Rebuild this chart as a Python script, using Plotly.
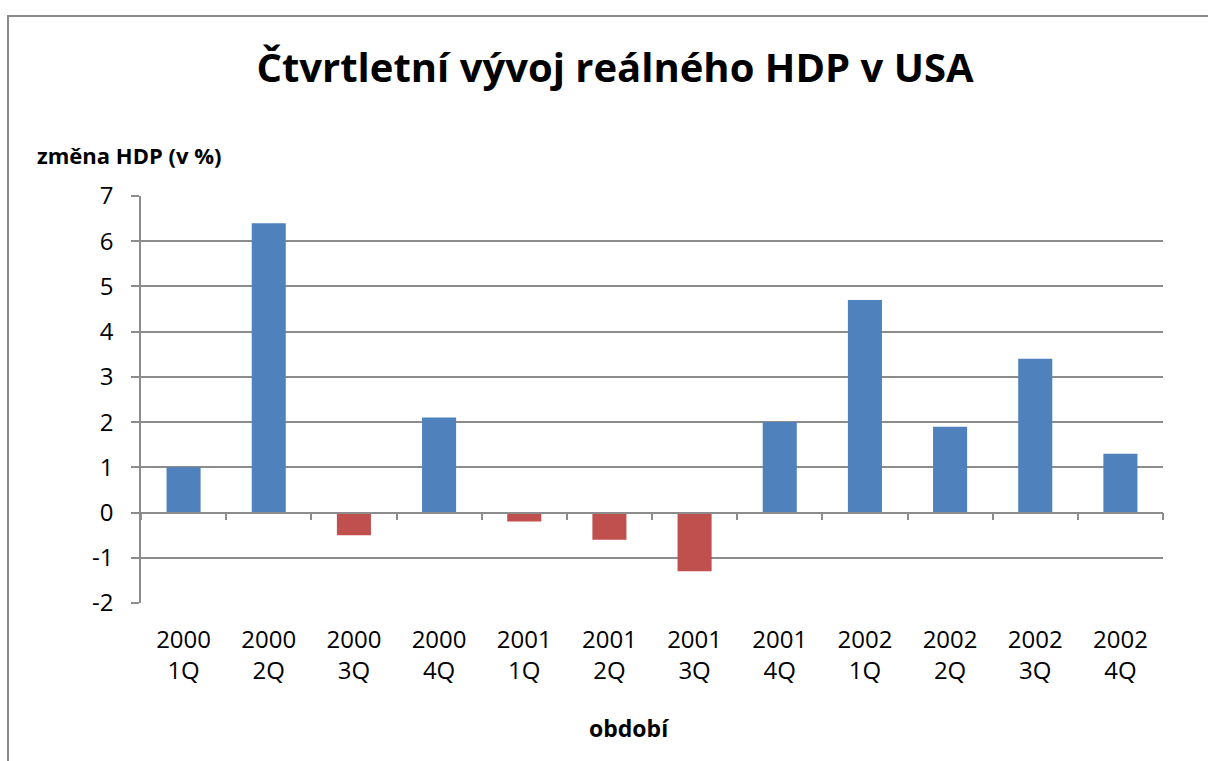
import plotly.graph_objects as go

categories = ["2000<br>1Q", "2000<br>2Q", "2000<br>3Q", "2000<br>4Q",
              "2001<br>1Q", "2001<br>2Q", "2001<br>3Q", "2001<br>4Q",
              "2002<br>1Q", "2002<br>2Q", "2002<br>3Q", "2002<br>4Q"]
values = [1.0, 6.4, -0.5, 2.1, -0.2, -0.6, -1.3, 2.0, 4.7, 1.9, 3.4, 1.3]
y_ticks = [-2, -1, 0, 1, 2, 3, 4, 5, 6, 7]
y_tick_text = ["-2", "-1", "0", "1", "2", "3", "4", "5", "6", "7"]

BLUE = "#4F81BD"
RED = "#C0504D"
GRID = "#8C8C8C"
FONT = "Open Sans"

W, H = 1208, 761
L, R, T, B = 141, 45, 196, 158
pw, ph = W - L - R, H - T - B

colors = [BLUE if v >= 0 else RED for v in values]

fig = go.Figure()
fig.add_trace(go.Bar(x=categories, y=values, marker=dict(color=colors, line=dict(width=0)),
                     width=0.4, showlegend=False, hoverinfo="x+y"))
# invisible trace to activate boundary tick axis
fig.add_trace(go.Scatter(x=[-0.5, 11.5], y=[0, 0], xaxis="x2", mode="lines",
                         line=dict(width=0), showlegend=False, hoverinfo="skip"))

zero_pos = (0 - y_ticks[0]) / (y_ticks[-1] - y_ticks[0])

fig.update_layout(
    width=W, height=H,
    margin=dict(l=L, r=R, t=T, b=B),
    paper_bgcolor="white", plot_bgcolor="white",
    font=dict(family=FONT, color="black"),
    title=dict(text="<b>Čtvrtletní vývoj reálného HDP v USA</b>",
               font=dict(family=FONT, size=40, color="black"),
               x=615 / W, xref="container", xanchor="center",
               y=1 - 68 / H, yref="container", yanchor="middle"),
    xaxis=dict(type="category", showgrid=False, showline=False, ticks="",
               tickfont=dict(size=24, family=FONT, color="black"),
               range=[-0.5, 11.5], zeroline=False, fixedrange=True,
               ticklabelstandoff=20),
    xaxis2=dict(overlaying="x", anchor="free", position=zero_pos, range=[-0.5, 11.5],
                tickmode="array", tickvals=[i - 0.5 for i in range(13)],
                showticklabels=False, ticks="outside", ticklen=7, tickwidth=1.5,
                tickcolor=GRID, showline=True, linecolor=GRID, linewidth=1.5,
                showgrid=False, zeroline=False, side="bottom"),
    yaxis=dict(range=[-2, 7], tickmode="array", tickvals=y_ticks, ticktext=y_tick_text,
               showgrid=True, gridcolor=GRID, gridwidth=1.5,
               showline=True, linecolor=GRID, linewidth=1.5,
               ticks="outside", ticklen=8, tickwidth=1.5, tickcolor=GRID,
               tickfont=dict(size=24, family=FONT, color="black"),
               zeroline=False, ticklabelstandoff=13),
    bargap=0.6,
)

fig.add_annotation(text="<b>změna HDP (v %)</b>", xref="paper", yref="paper",
                   x=(35 - L) / pw, y=1 + (T - 155) / ph, xanchor="left", yanchor="middle",
                   showarrow=False, font=dict(family=FONT, size=22, color="black"))
fig.add_annotation(text="<b>období</b>", xref="paper", yref="paper",
                   x=(629 - L) / pw, y=-(728 - T - ph) / ph, xanchor="center", yanchor="middle",
                   showarrow=False, font=dict(family=FONT, size=23, color="black"))

# chart frame
fig.add_shape(type="rect", xref="paper", yref="paper",
              x0=(8 - L) / pw, x1=(W + 20 - L) / pw,
              y0=-(H + 20 - T - ph) / ph, y1=1 + (T - 16) / ph,
              line=dict(color="#8C8C8C", width=2), fillcolor="rgba(0,0,0,0)", layer="below")

fig.write_html("out.html", config={"displayModeBar": False},
               post_script="document.body.style.margin='0';document.body.style.overflow='hidden';")
